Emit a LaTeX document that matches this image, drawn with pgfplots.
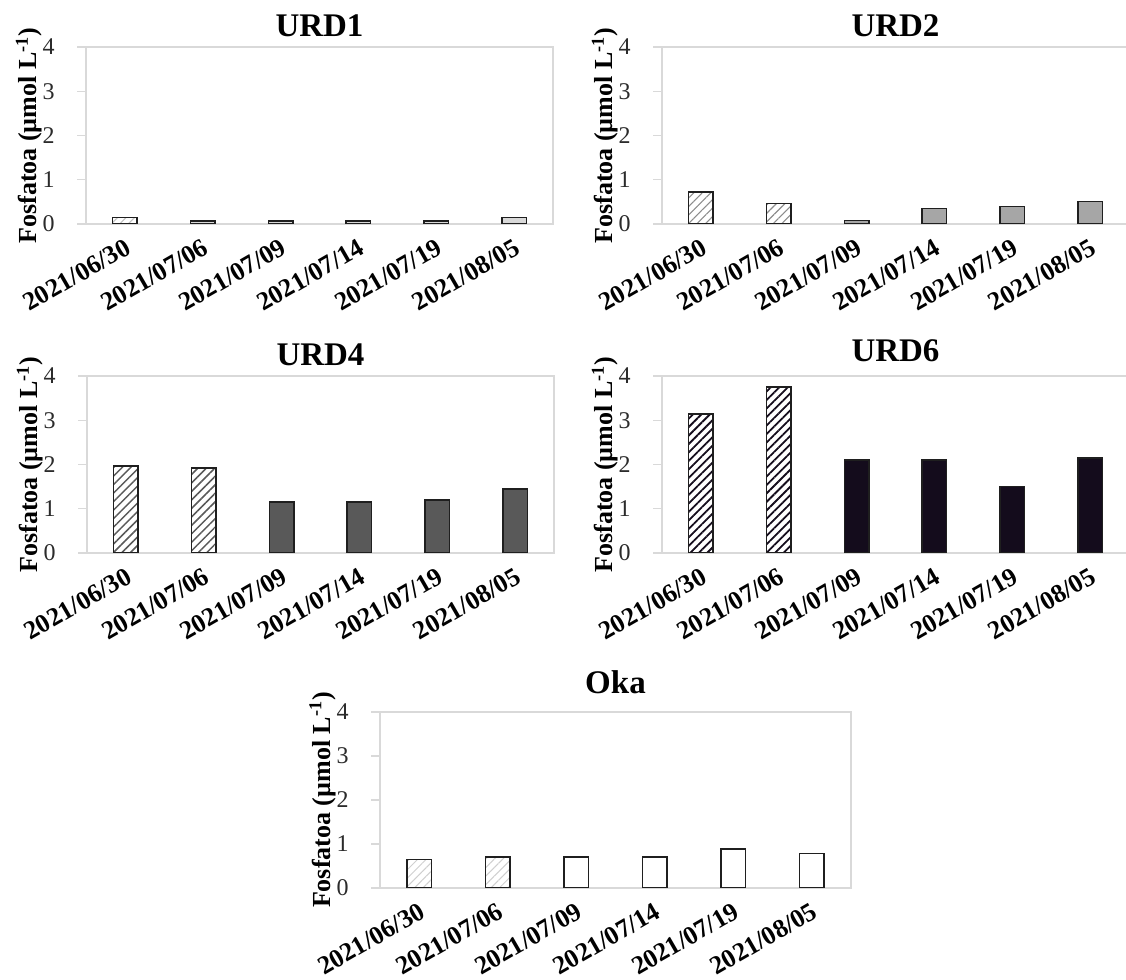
\documentclass[border=0pt]{standalone}
\usepackage{fontspec}
\setmainfont{Liberation Serif}
\usepackage{pgfplots}
\pgfplotsset{compat=1.18}
\usetikzlibrary{patterns.meta}
\definecolor{axgray}{HTML}{D9D9D9}
\definecolor{tickc}{HTML}{2B2B2B}
\definecolor{barline}{HTML}{1F1F1F}
\definecolor{c1}{HTML}{D9D9D9}
\definecolor{h1}{HTML}{BFBFBF}
\definecolor{c2}{HTML}{A6A6A6}
\definecolor{h2}{HTML}{8C8C8C}
\definecolor{c4}{HTML}{595959}
\definecolor{c6}{HTML}{140C1C}
\definecolor{h5}{HTML}{CFCFCF}
\pgfplotsset{
 panel/.style={
  scale only axis, width=233.5pt, height=88.5pt,
  anchor=south west,
  xmin=-0.5, xmax=5.5, ymin=0, ymax=4,
  xtick={0,...,5},
  xticklabels={2021/06/30,2021/07/06,2021/07/09,2021/07/14,2021/07/19,2021/08/05},
  ytick={0,1,2,3,4},
  yticklabels={0,1,2,3,4},
  axis line style={draw=axgray, line width=0.6pt},
  tick align=outside, ytick pos=left, xtick pos=bottom,
  major tick length=4.5pt,
  ytick style={draw=axgray, line width=0.6pt},
  xtick style={draw=none},
  yticklabel shift=11pt,
  yticklabel style={font=\fontsize{12}{14}\selectfont, text=tickc, anchor=east, inner sep=0pt},
  xticklabel style={font=\bfseries\fontsize{13}{15}\selectfont, rotate=30, anchor=north east, inner sep=1.5pt},
  ylabel={Fosfatoa (µmol L\textsuperscript{-1})},
  every axis y label/.style={at={(axis description cs:-0.106,0.5)}, anchor=base, rotate=90, font=\bfseries\fontsize{13}{15}\selectfont},
  every axis title/.style={at={(0.5,1)}, anchor=base, yshift=5pt, font=\bfseries\fontsize{16.5}{18}\selectfont},
 },
 solidbar/.style={ybar, bar width=12.25pt, draw=barline, line width=0.7pt, fill=#1},
 hatchbar/.style 2 args={ybar, bar width=12.25pt, draw=barline, line width=0.7pt, pattern={Lines[angle=45,distance=3pt,line width=#2]}, pattern color=#1},
}
\begin{document}
\begin{tikzpicture}
\useasboundingbox (0,0) rectangle (563pt,490pt);
% URD1
\begin{axis}[panel, at={(43pt,378pt)}, title={URD1}]
\addplot[hatchbar={h1}{0.5pt}] coordinates {(0,0.14)};
\addplot[solidbar=c1] coordinates {(1,0.07) (2,0.07) (3,0.07) (4,0.07) (5,0.14)};
\end{axis}
% URD2
\begin{axis}[panel, at={(331pt,378pt)}, title={URD2}]
\addplot[hatchbar={h2}{0.55pt}] coordinates {(0,0.72) (1,0.46)};
\addplot[solidbar=c2] coordinates {(2,0.08) (3,0.35) (4,0.40) (5,0.51)};
\end{axis}
% URD4
\begin{axis}[panel, at={(43.5pt,213.5pt)}, title={URD4}]
\addplot[hatchbar={c4}{0.75pt}] coordinates {(0,1.97) (1,1.92)};
\addplot[solidbar=c4] coordinates {(2,1.15) (3,1.15) (4,1.20) (5,1.45)};
\end{axis}
% URD6
\begin{axis}[panel, at={(331pt,213.5pt)}, title={URD6}, title style={yshift=2pt}]
\addplot[hatchbar={c6}{0.9pt}] coordinates {(0,3.14) (1,3.75)};
\addplot[solidbar=c6] coordinates {(2,2.10) (3,2.10) (4,1.50) (5,2.15)};
\end{axis}
% Oka
\begin{axis}[panel, at={(190pt,46pt)}, width=235.5pt, height=88pt, title={Oka}, title style={yshift=4pt}]
\addplot[hatchbar={h5}{0.5pt}] coordinates {(0,0.65) (1,0.70)};
\addplot[solidbar=white] coordinates {(2,0.70) (3,0.70) (4,0.89) (5,0.79)};
\end{axis}
\end{tikzpicture}
\end{document}
